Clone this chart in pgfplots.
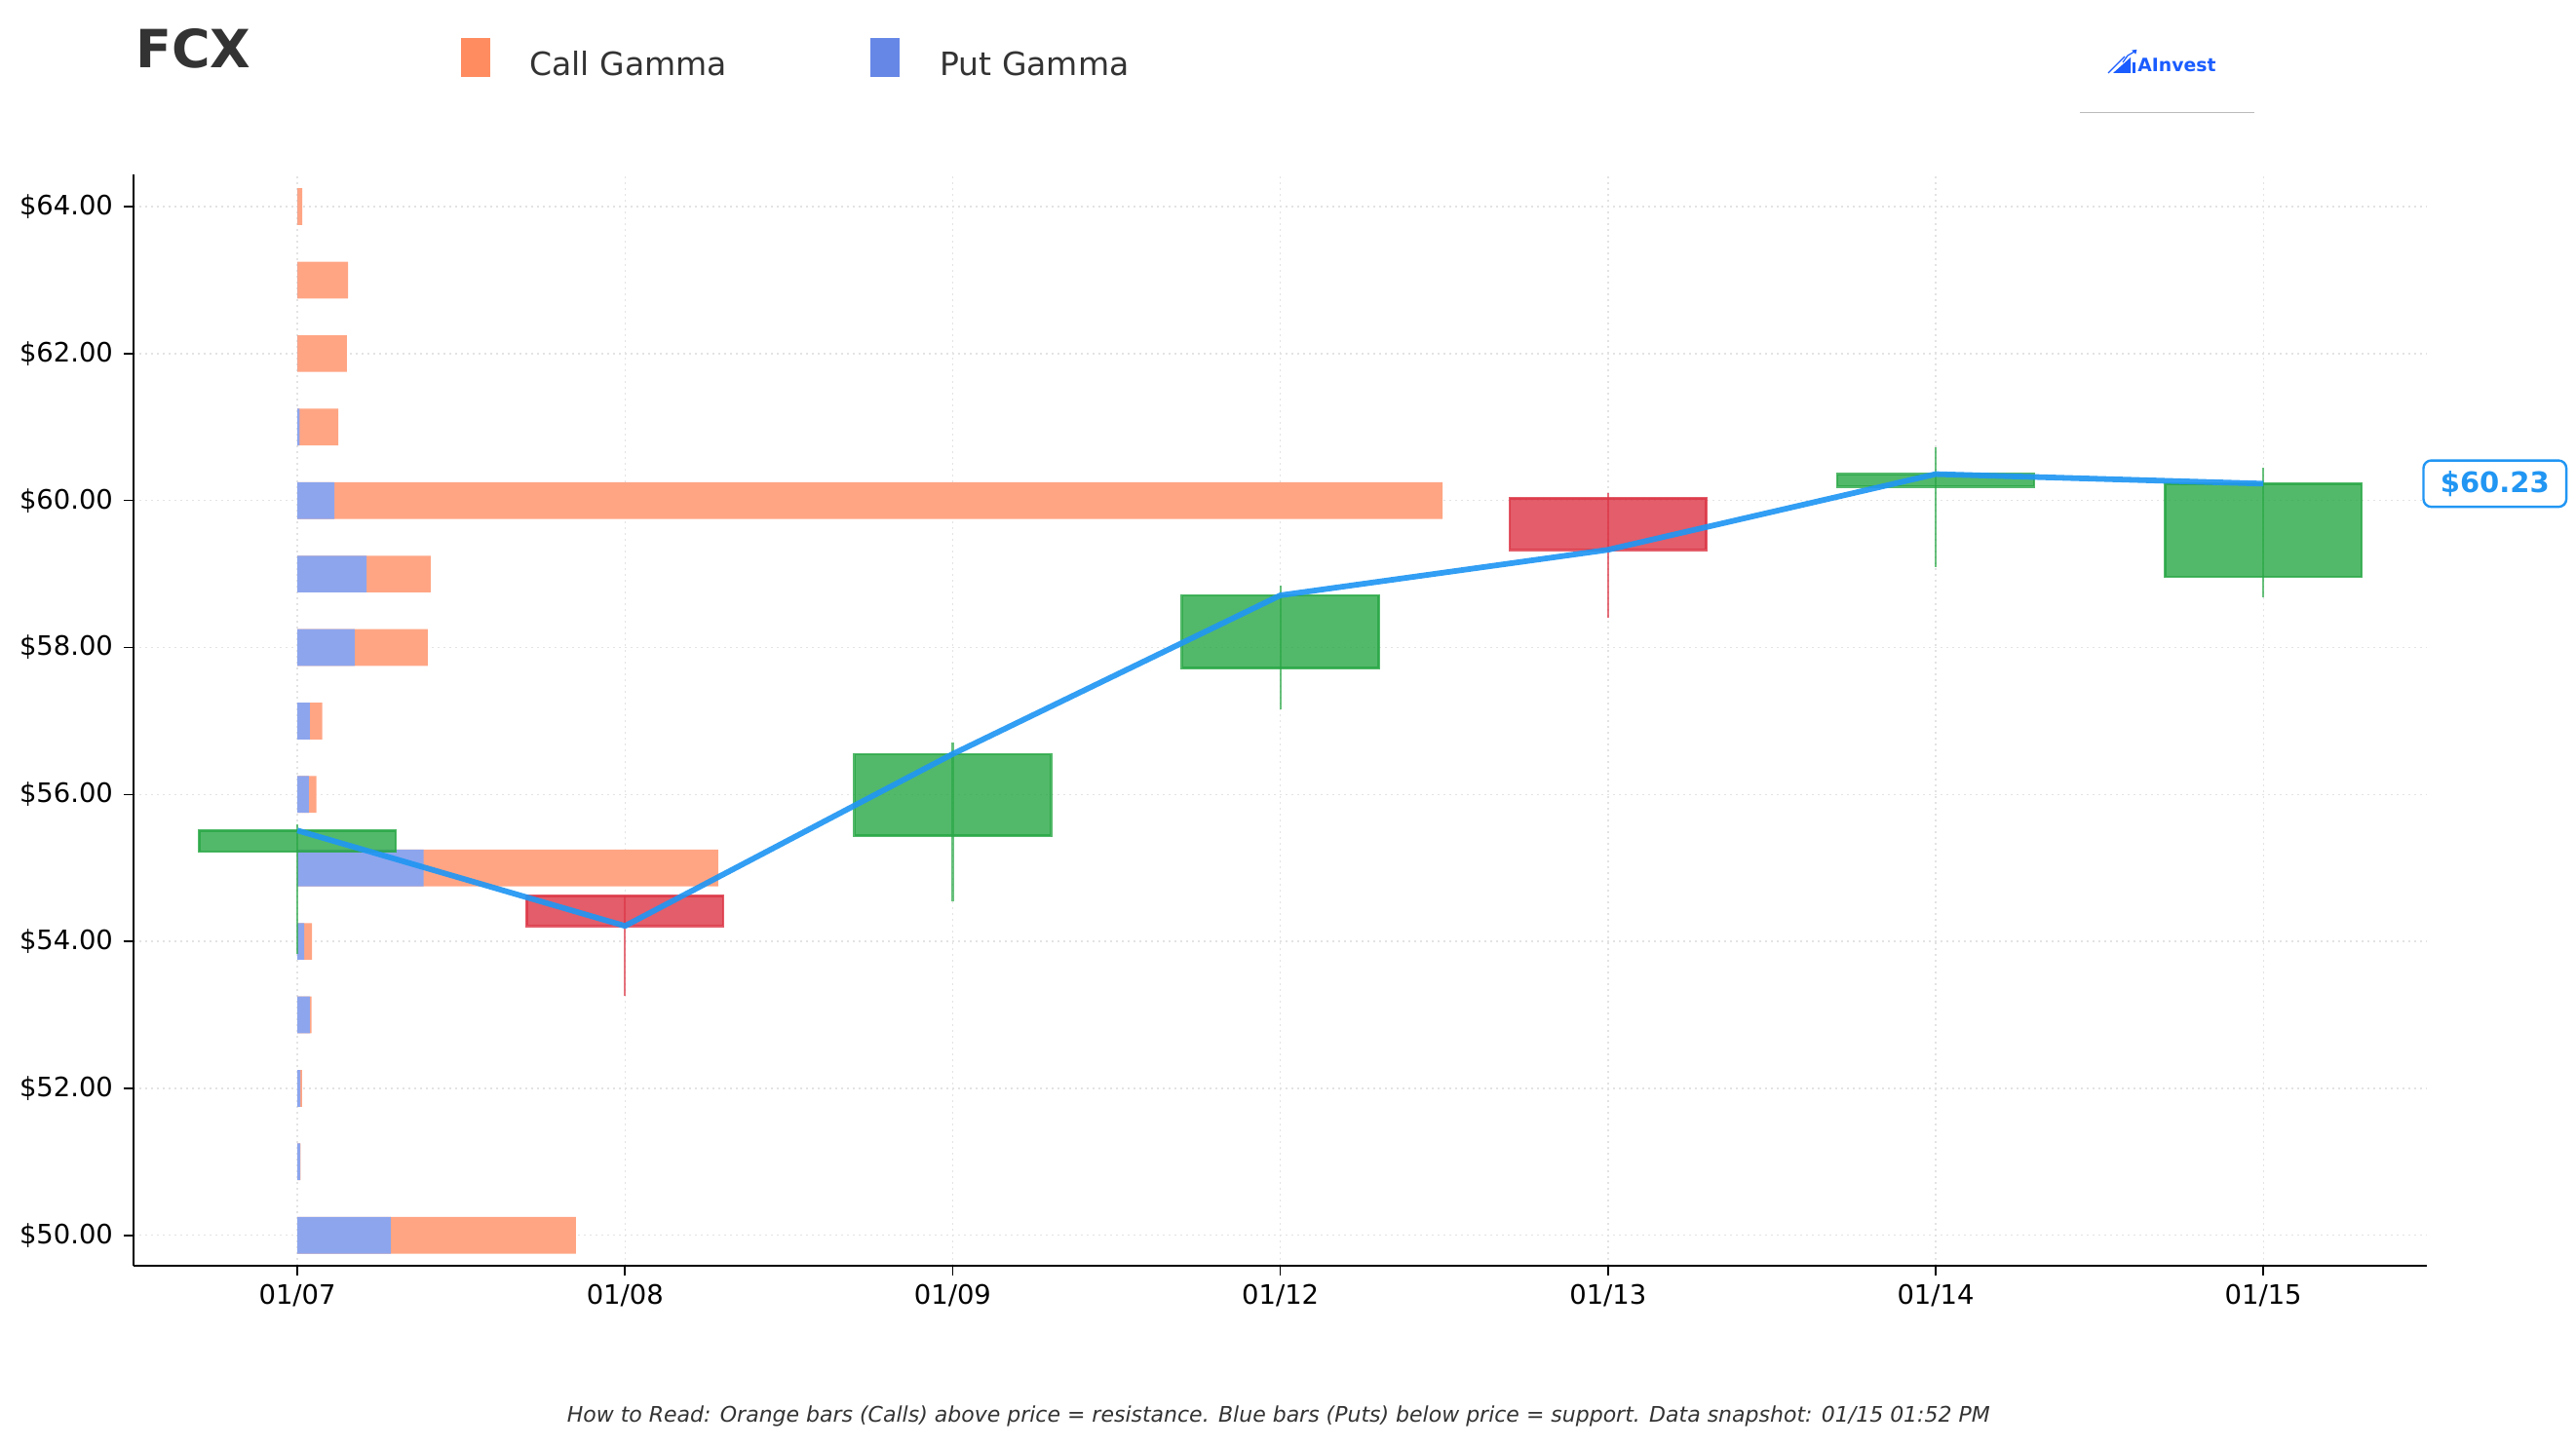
\documentclass[border=0pt]{standalone}
\usepackage{fontspec}
\setmainfont{DejaVu Sans}
\usepackage{pgfplots}
\usepackage{pgfplotstable}
\pgfplotsset{compat=1.18}

\definecolor{callc}{HTML}{FF7F50}
\definecolor{putc}{HTML}{4169E1}
\definecolor{upc}{HTML}{28A745}
\definecolor{downc}{HTML}{DC3545}
\definecolor{pricec}{HTML}{2196F3}
\definecolor{txt}{HTML}{333333}
\definecolor{brand}{HTML}{1A5CFF}
\definecolor{rule}{HTML}{BBBBBB}

% gamma exposure by strike (put, call)
\pgfplotstableread{
strike put   call
50     0.285 0.565
51     0.008 0.002
52     0.009 0.005
53     0.038 0.005
54     0.021 0.024
55     0.385 0.899
56     0.035 0.023
57     0.038 0.038
58     0.175 0.223
59     0.211 0.196
60     0.113 3.382
61     0.007 0.118
62     0.000 0.151
63     0.000 0.155
64     0.000 0.015
}\gammatable

% daily closes
\pgfplotstableread{
idx close
0   55.51
1   54.21
2   56.55
3   58.71
4   59.33
5   60.36
6   60.23
}\closetable

% candle: left, centre, right, open, high, low, close, colour
\newcommand\candle[8]{%
  \addplot[draw=#8, draw opacity=0.7, line width=1.1pt, forget plot]
    coordinates {(#2,#6) (#2,#5)};
  \addplot[fill=#8, fill opacity=0.8, draw=#8, draw opacity=0.8,
           line width=1.3pt, forget plot]
    coordinates {(#1,#4) (#3,#4) (#3,#7) (#1,#7)} -- cycle;
}

\begin{document}
\begin{tikzpicture}
\path[use as bounding box] (0,0) rectangle (1321.5pt,742pt);

\begin{axis}[
  at={(68.5pt,92.35pt)}, anchor=south west,
  scale only axis, width=1176.7pt, height=560.3pt,
  xmin=-0.5, xmax=6.5, ymin=49.581, ymax=64.443,
  axis x line*=bottom, axis y line*=left,
  axis line style={-, line width=1.1pt, black},
  xtick={0,1,2,3,4,5,6},
  xticklabels={01/07,01/08,01/09,01/12,01/13,01/14,01/15},
  ytick={50,52,...,64},
  yticklabel={\$\pgfmathprintnumber[fixed,fixed zerofill,precision=2]{\tick}},
  /pgf/number format/assume math mode=true,
  tick align=outside, major tick length=5pt,
  tick style={black, line width=0.8pt},
  ticklabel style={font=\fontsize{13.7}{15}\selectfont, text=black},
  yticklabel style={xshift=-2pt},
  xticklabel style={yshift=-0.8pt},
  grid=major,
  major grid style={gray!22, line width=0.7pt, dash pattern=on 1pt off 2pt},
  clip=false,
]

% gamma bars: total length in call colour, put share on top
\addplot[xbar, bar width=0.5, bar shift=0pt, draw=none, fill=callc!70!white, forget plot]
  table[x expr=\thisrow{put}+\thisrow{call}, y=strike]{\gammatable};
\addplot[xbar, bar width=0.5, bar shift=0pt, draw=none, fill=putc!60!white, forget plot]
  table[x=put, y=strike]{\gammatable};

% daily candles
\candle{-0.3}{0}{0.3}{55.22}{55.59}{53.83}{55.51}{upc}
\candle{0.7}{1}{1.3}{54.62}{54.62}{53.26}{54.21}{downc}
\candle{1.7}{2}{2.3}{55.44}{56.71}{54.55}{56.55}{upc}
\candle{2.7}{3}{3.3}{57.72}{58.84}{57.16}{58.71}{upc}
\candle{3.7}{4}{4.3}{60.03}{60.10}{58.40}{59.33}{downc}
\candle{4.7}{5}{5.3}{60.19}{60.73}{59.10}{60.36}{upc}
\candle{5.7}{6}{6.3}{58.96}{60.45}{58.68}{60.23}{upc}

% close price line
\addplot[pricec, draw opacity=0.92, line width=2.9pt, line join=round, mark=none]
  table[x=idx, y=close]{\closetable};

\node[anchor=west, draw=pricec, line width=1.2pt, rounded corners=4pt, fill=white,
      text=pricec, font=\bfseries\fontsize{14.5}{16}\selectfont,
      minimum width=73.3pt, minimum height=23.8pt, inner sep=0pt, xshift=-2.5pt]
  at (axis cs:6.5,60.23) {\$60.23};
\end{axis}

% title
\node[anchor=base west, inner sep=0pt, text=txt,
      font=\bfseries\fontsize{27}{30}\selectfont] at (69.5pt,707.35pt) {FCX};

% legend
\fill[callc!90!white] (236.3pt,702.65pt) rectangle (251.65pt,722.5pt);
\node[anchor=base west, inner sep=0pt, text=txt, font=\fontsize{16.5}{19}\selectfont]
  at (271.5pt,703.15pt) {Call Gamma};
\fill[putc!80!white] (446.5pt,702.65pt) rectangle (461.5pt,722.5pt);
\node[anchor=base west, inner sep=0pt, text=txt, font=\fontsize{16.5}{19}\selectfont]
  at (482pt,703.15pt) {Put Gamma};

% brand mark
\fill[brand] (1084pt,704.5pt) -- (1093pt,704.5pt) -- (1093pt,712.5pt) -- cycle;
\draw[brand, line width=0.6pt] (1081.5pt,704.5pt) -- (1090pt,713pt);
\fill[brand] (1094pt,704.5pt) rectangle (1095.6pt,710pt);
\draw[brand, line width=0.6pt] (1089pt,710pt) -- (1091.5pt,713.5pt) -- (1095pt,715.5pt);
\fill[brand] (1096.2pt,716.6pt) -- (1093.6pt,716.2pt) -- (1095.6pt,714.2pt) -- cycle;
\node[anchor=base west, inner sep=0pt, text=brand, font=\bfseries\fontsize{9.4}{11}\selectfont]
  at (1096.5pt,705pt) {AInvest};
\draw[rule, line width=0.75pt] (1067pt,684.35pt) -- (1156.5pt,684.35pt);

% footnote
\node[anchor=base, inner sep=0pt, text=txt, font=\itshape\fontsize{11}{13}\selectfont]
  at (655.9pt,12.5pt)
  {How to Read: Orange bars (Calls) above price = resistance. Blue bars (Puts) below price = support. Data snapshot: 01/15 01:52 PM};
\end{tikzpicture}
\end{document}
